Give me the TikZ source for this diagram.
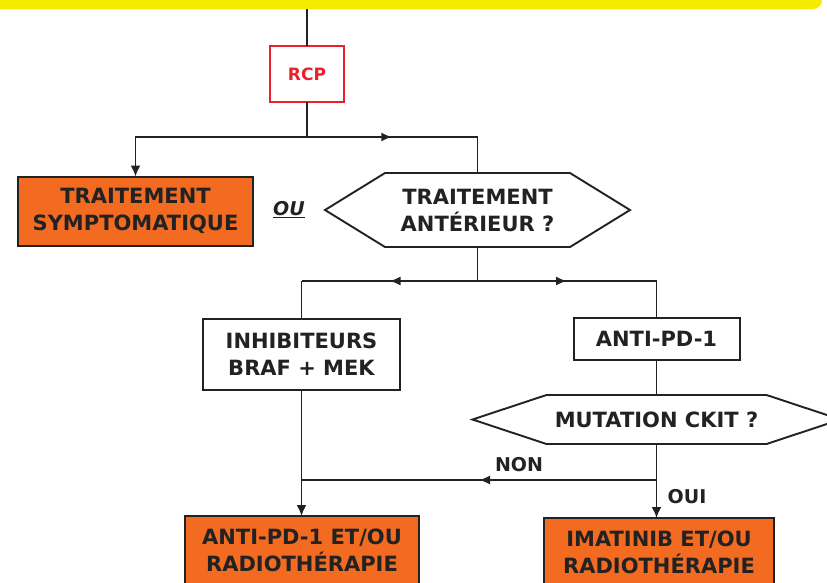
\documentclass[tikz,border=0pt]{standalone}
\usepackage{fontspec}
\setmainfont{DejaVu Sans}
\usetikzlibrary{arrows.meta,decorations.markings,calc}
\definecolor{baryel}{HTML}{F5EB00}
\definecolor{orng}{HTML}{F26B21}
\definecolor{rcpred}{HTML}{E8202A}
\definecolor{lnc}{HTML}{222222}
\begin{document}
\begin{tikzpicture}[x=1pt,y=-1pt,
  every node/.style={inner sep=0pt, outer sep=0pt, align=center},
  txt/.style={font=\fontsize{21}{27}\selectfont\bfseries, text=lnc},
  plainbox/.style={txt, draw=lnc, line width=2pt, fill=white},
  orbox/.style={txt, draw=lnc, line width=2pt, fill=orng},
  conn/.style={draw=lnc, line width=1.9pt},
  tip/.style={-{Latex[length=11pt,width=10pt]}},
  midarrow/.style={postaction={decorate}, decoration={markings,
     mark=at position 0.5 with {\arrow{Latex[length=11pt,width=9pt]}}}},
  hexline/.style={draw=lnc, line width=1.9pt, fill=white}
]
\useasboundingbox (0,0) rectangle (827,582);
% top yellow bar
\fill[baryel, rounded corners=9pt] (-30,-30) rectangle (822,9);

% nodes
\node[draw=rcpred, line width=2.6pt, minimum width=74, minimum height=56,
      text=rcpred, font=\fontsize{17}{18}\selectfont\bfseries] (rcp) at (307,74) {RCP};
\node[orbox, minimum width=235, minimum height=69] (symp) at (135.5,211)
   {TRAITEMENT\\SYMPTOMATIQUE};
% hexagon 1 (frame node, shape drawn below)
\node[minimum width=305, minimum height=74] (ant) at (477.5,210) {};
\draw[hexline] (ant.west) -- ($(ant.north west)+(60,0)$) -- ($(ant.north east)+(-60,0)$)
   -- (ant.east) -- ($(ant.south east)+(-60,0)$) -- ($(ant.south west)+(60,0)$) -- cycle;
\node[txt] (anttxt) at (477.5,210) {TRAITEMENT\\ANTÉRIEUR ?};

\node[plainbox, minimum width=197, minimum height=71] (inh) at (301.5,354.5)
   {INHIBITEURS\\BRAF + MEK};
\node[plainbox, minimum width=166, minimum height=42] (apd) at (656.5,339) {ANTI-PD-1};

% hexagon 2
\node[minimum width=368, minimum height=49] (mut) at (656.5,419.5) {};
\draw[hexline] (mut.west) -- ($(mut.north west)+(74,0)$) -- ($(mut.north east)+(-74,0)$)
   -- (mut.east) -- ($(mut.south east)+(-74,0)$) -- ($(mut.south west)+(74,0)$) -- cycle;
\node[txt] (muttxt) at (656.5,419.5) {MUTATION CKIT ?};

\node[orbox, minimum width=234, minimum height=68] (apdrt) at (302,550)
   {ANTI-PD-1 ET/OU\\RADIOTHÉRAPIE};
\node[orbox, minimum width=230, minimum height=68] (ima) at (659,552)
   {IMATINIB ET/OU\\RADIOTHÉRAPIE};

% labels
\node[font=\fontsize{19}{20}\selectfont\bfseries\itshape, text=lnc] (ou) at (289,210) {\underline{OU}};
\node[txt, font=\fontsize{19}{20}\selectfont\bfseries] (non) at (519,465) {NON};
\node[txt, font=\fontsize{19}{20}\selectfont\bfseries] (oui) at (687,497) {OUI};

% connectors
\coordinate (top) at (307,9);
\coordinate (t1) at (307,137);
\coordinate (t2) at (477.5,281);
\coordinate (t3) at (656.5,480);
\coordinate (t4) at (301.5,480);

\draw[conn] (top) -- (rcp.north);
\draw[conn] (rcp.south) -- (t1);
\draw[conn, tip] (t1) -| (symp.north);
\draw[conn, midarrow] (t1) -- (t1 -| ant.north);
\draw[conn] (t1 -| ant.north) -- (ant.north);

\draw[conn] (ant.south) -- (t2);
\draw[conn, midarrow] (t2) -- (t2 -| inh.north);
\draw[conn] (t2 -| inh.north) -- (inh.north);
\draw[conn, midarrow] (t2) -- (t2 -| apd.north);
\draw[conn] (t2 -| apd.north) -- (apd.north);

\draw[conn] (apd.south) -- (mut.north);
\draw[conn] (mut.south) -- (t3);
\draw[conn, midarrow] (t3) -- (t4);
\draw[conn, tip] (inh.south) -- (inh.south |- apdrt.north);
\draw[conn, tip] (t3) -- (t3 |- ima.north);
\end{tikzpicture}
\end{document}
